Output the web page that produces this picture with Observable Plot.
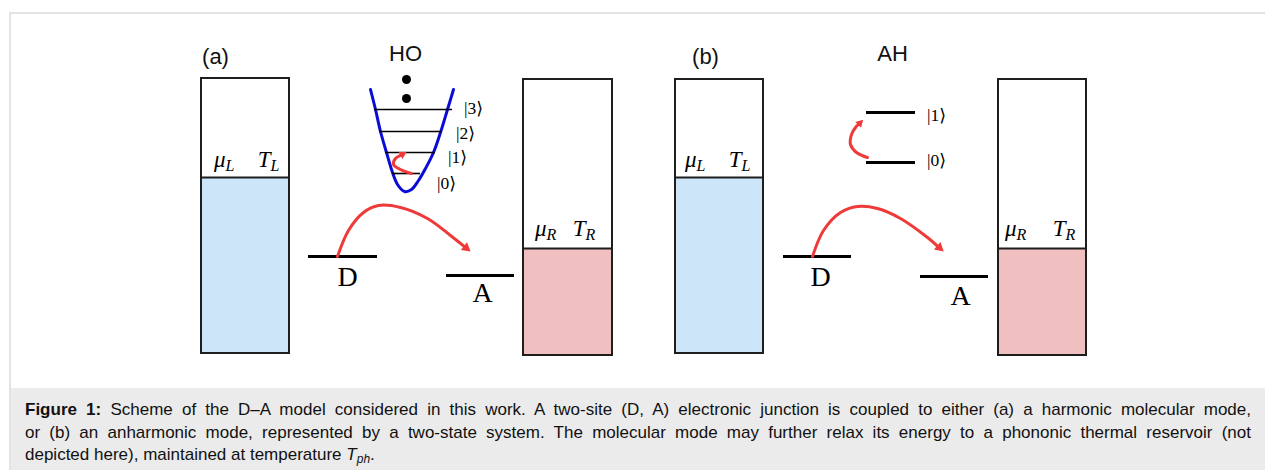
<!DOCTYPE html>
<html>
<head>
<meta charset="utf-8">
<script src="https://cdn.jsdelivr.net/npm/d3@7"></script>
<script src="https://cdn.jsdelivr.net/npm/@observablehq/plot@0.6"></script>
<style>
  html, body { margin: 0; padding: 0; background: #fff; overflow: hidden; }
  #frame {
    position: absolute; left: 9px; top: 12px; width: 1256px;
    border-top: 2px solid #e3e3e3; border-left: 2px solid #e3e3e3;
  }
  #chart svg { display: block; }
  #caption {
    background: #ebebeb; height: 71px; padding: 11px 0 0 14px; overflow: hidden;
    font-family: "Liberation Sans", Arial, sans-serif; font-size: 17px;
    line-height: 22.5px; color: #111;
  }
  #caption .line { width: 1226px; white-space: nowrap; }
  #caption .full { white-space: normal; text-align: justify; text-align-last: justify; }
  #caption sub { font-size: 12px; vertical-align: -3px; line-height: 0; }
</style>
</head>
<body>
<div id="frame">
  <div id="chart"></div>
  <div id="caption">
    <div class="line full"><b>Figure 1:</b> Scheme of the D–A model considered in this work. A two-site (D, A) electronic junction is coupled to either (a) a harmonic molecular mode,</div>
    <div class="line full">or (b) an anharmonic mode, represented by a two-state system. The molecular mode may further relax its energy to a phononic thermal reservoir (not</div>
    <div class="line">depicted here), maintained at temperature <i>T<sub>ph</sub></i>.</div>
  </div>
</div>
<script>
// Panel headings
const panelNames = ["(a)", "(b)"];
const panelX = [215, 705];
const modeNames = ["HO", "AH"];
const modeX = [405, 892];

// Electrode reservoirs (left/right leads), filled up to the chemical potential
const leadSide = ["L", "R", "L", "R"];
const leadX1 = [201, 523, 675, 998];
const leadX2 = [289, 612, 763, 1086];
const leadTop = [78, 79, 79, 79];
const leadBottom = [353, 355, 353, 355];
const leadMu = [177, 248, 177, 248];

// Reservoir labels: symbol + subscript, split position, baseline
const leadSymbol = ["μ", "T", "μ", "T", "μ", "T", "μ", "T"];
const leadSub = ["L", "L", "R", "R", "L", "L", "R", "R"];
const leadLabelX = [225, 270, 546, 585, 696, 741, 1016, 1065];
const leadLabelY = [166, 166, 235, 235, 166, 166, 235, 235];

// Donor / acceptor sites
const siteName = ["D", "A", "D", "A"];
const siteX1 = [308, 446, 783, 920];
const siteX2 = [377, 514, 851, 988];
const siteLevel = [256, 275, 256, 276];
const siteLabelX = [347, 482, 820, 960];
const siteLabelY = [277, 293, 277, 296];

// Harmonic oscillator well and its ladder |0>..|3>
const wellX = [370, 375, 380, 386, 392, 397, 404, 411, 418, 425, 433, 440, 447, 453];
const wellY = [89, 109, 131, 152, 172, 184, 191, 189, 180, 168, 152, 132, 109, 89];
const hoLevel = [173, 152, 131, 109];
const hoLevelX1 = [392, 385, 379, 374];
const hoLevelX2 = [420, 435, 441, 452];
const hoKet = ["|0⟩", "|1⟩", "|2⟩", "|3⟩"];
const hoKetX = [446, 457, 465, 473];
const hoKetY = [183, 157, 133, 108];
const ellipsisY = [79, 98];
const ellipsisX = [406, 406];

// Anharmonic (two-state) mode
const ahLevel = [162, 112];
const ahLevelX1 = [866, 866];
const ahLevelX2 = [915, 915];
const ahKet = ["|0⟩", "|1⟩"];
const ahKetX = [936, 936];
const ahKetY = [160, 115];

// Electron hop D -> A (panels a and b) and mode excitations
const hopAX = [337, 348, 363, 378, 400, 427, 450, 475];
const hopAY = [256, 230, 212, 205, 207, 218, 235, 255];
const hopBX = [812, 823, 840, 857, 877, 900, 927, 948];
const hopBY = [256, 230, 212, 206, 208, 218, 237, 255];
const exciteHOX = [411, 400, 393, 395, 400, 409];
const exciteHOY = [173, 169, 164, 158, 155, 150];
const exciteAHX = [867, 856, 850, 851, 855, 865];
const exciteAHY = [157, 152, 144, 134, 127, 117];

const RED = "#ef3a3a";
const INK = "#1e1e1e";

const leads = leadSide.map((s, i) => ({side: s, x1: leadX1[i], x2: leadX2[i], top: leadTop[i], bottom: leadBottom[i], mu: leadMu[i]}));
const leadLabels = leadSymbol.map((s, i) => ({sym: s, sub: leadSub[i], x: leadLabelX[i], y: leadLabelY[i]}));
const sites = siteName.map((n, i) => ({name: n, x1: siteX1[i], x2: siteX2[i], y: siteLevel[i], lx: siteLabelX[i], ly: siteLabelY[i]}));
const well = wellX.map((x, i) => ({x, y: wellY[i]}));
const hoLevels = hoLevel.map((y, i) => ({y, x1: hoLevelX1[i], x2: hoLevelX2[i], ket: hoKet[i], kx: hoKetX[i], ky: hoKetY[i]}));
const ahLevels = ahLevel.map((y, i) => ({y, x1: ahLevelX1[i], x2: ahLevelX2[i], ket: ahKet[i], kx: ahKetX[i], ky: ahKetY[i]}));
const ellipsis = ellipsisX.map((x, i) => ({x, y: ellipsisY[i]}));
const panels = panelNames.map((t, i) => ({t, x: panelX[i]}));
const modes = modeNames.map((t, i) => ({t, x: modeX[i]}));

// Split a path into a shaft and a filled triangular head at its last point
function arrowParts(xs, ys, len) {
  const n = xs.length;
  const tx = xs[n - 1], ty = ys[n - 1];
  const dx = tx - xs[n - 2], dy = ty - ys[n - 2];
  const d = Math.hypot(dx, dy), ux = dx / d, uy = dy / d;
  const shaft = xs.slice(0, n - 1).map((x, i) => ({x, y: ys[i]}));
  shaft.push({x: tx - ux * len * 0.85, y: ty - uy * len * 0.85});
  const k = len / 3; // d3 triangle: height = 3k, tip at 2k from centroid
  const head = {x: tx - ux * 2 * k, y: ty - uy * 2 * k,
                angle: Math.atan2(dx, -dy) * 180 / Math.PI,
                r: Math.sqrt(k * k * 3 * Math.sqrt(3) / Math.PI)};
  return {shaft, head};
}
const arrows = [
  arrowParts(hopAX, hopAY, 18),
  arrowParts(hopBX, hopBY, 18),
  arrowParts(exciteHOX, exciteHOY, 12),
  arrowParts(exciteAHX, exciteAHY, 12)
];

const sans = "Liberation Sans, Arial, sans-serif";
const serif = "Liberation Serif, DejaVu Serif, serif";

const chart = Plot.plot({
  width: 1254,
  height: 374,
  margin: 0,
  x: {domain: [11, 1265], axis: null},
  y: {domain: [388, 14], axis: null},
  color: {domain: ["L", "R"], range: ["#cde5f9", "#f0c0c1"]},
  style: {background: "transparent", overflow: "visible"},
  marks: [
    // reservoirs
    Plot.rect(leads, {x1: "x1", x2: "x2", y1: "mu", y2: "bottom", fill: "side"}),
    Plot.rect(leads, {x1: "x1", x2: "x2", y1: "top", y2: "bottom", fill: "none", stroke: INK, strokeWidth: 2}),
    Plot.ruleY(leads, {y: "mu", x1: "x1", x2: "x2", stroke: INK, strokeWidth: 2}),
    Plot.text(leadLabels, {x: "x", y: "y", text: "sym", textAnchor: "end", lineAnchor: "bottom",
      fontFamily: serif, fontStyle: "italic", fontSize: 23, fill: "#000"}),
    Plot.text(leadLabels, {x: "x", y: (d) => d.y + 4, text: "sub", textAnchor: "start", lineAnchor: "bottom",
      fontFamily: serif, fontStyle: "italic", fontSize: 16, fill: "#000"}),

    // donor / acceptor
    Plot.ruleY(sites, {y: "y", x1: "x1", x2: "x2", stroke: "#000", strokeWidth: 3.2}),
    Plot.text(sites, {x: "lx", y: "ly", text: "name", fontFamily: serif, fontSize: 28, fill: "#000"}),

    // harmonic well
    Plot.line(well, {x: "x", y: "y", curve: "catmull-rom", stroke: "#0b0bd8", strokeWidth: 3}),
    Plot.ruleY(hoLevels, {y: "y", x1: "x1", x2: "x2", stroke: "#000", strokeWidth: 1.6}),
    Plot.text(hoLevels, {x: "kx", y: "ky", text: "ket", fontFamily: serif, fontSize: 17.5, fill: "#000"}),
    Plot.dot(ellipsis, {x: "x", y: "y", r: 4.5, fill: "#000"}),

    // two-state mode
    Plot.ruleY(ahLevels, {y: "y", x1: "x1", x2: "x2", stroke: "#000", strokeWidth: 3}),
    Plot.text(ahLevels, {x: "kx", y: "ky", text: "ket", fontFamily: serif, fontSize: 17.5, fill: "#000"}),

    // red arrows
    ...arrows.map((a) => Plot.line(a.shaft, {x: "x", y: "y", curve: "catmull-rom", stroke: RED, strokeWidth: 3})),
    Plot.dot(arrows.map((a) => a.head), {x: "x", y: "y", r: "r", rotate: "angle", symbol: "triangle", fill: RED, stroke: "none"}),

    // headings
    Plot.text(panels, {x: "x", y: 56, text: "t", fontFamily: sans, fontSize: 22, fill: "#111"}),
    Plot.text(modes, {x: "x", y: 53, text: "t", fontFamily: sans, fontSize: 22, fill: "#111"})
  ]
});
document.getElementById("chart").append(chart);
</script>
</body>
</html>
